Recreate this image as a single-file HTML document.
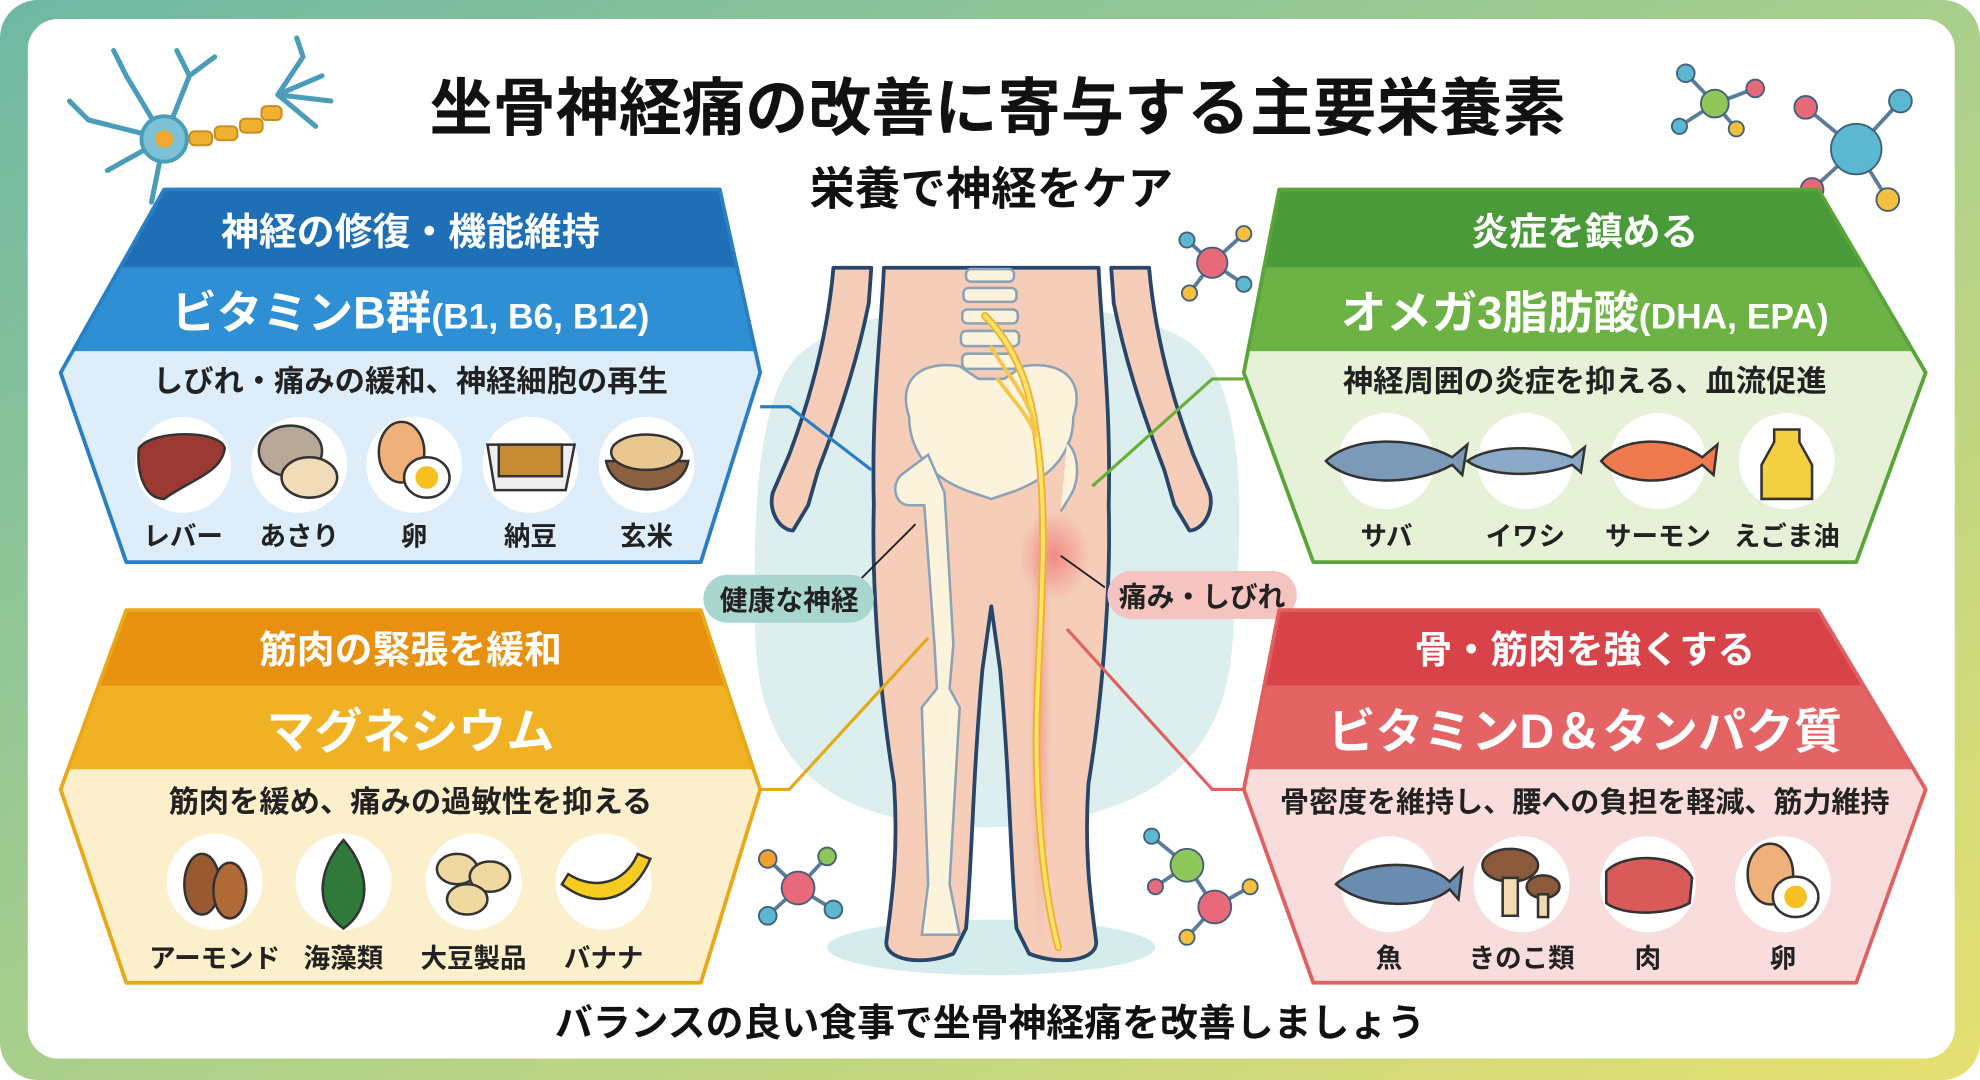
<!DOCTYPE html>
<html><head><meta charset="utf-8"><style>
html,body{margin:0;padding:0;width:1980px;height:1080px;overflow:hidden;background:#fff}
svg{display:block}
text{font-family:"Liberation Sans","Noto Sans CJK JP",sans-serif;font-weight:bold}
</style></head><body>
<svg width="1980" height="1080" viewBox="0 0 1568 855" preserveAspectRatio="none" xmlns="http://www.w3.org/2000/svg">
<defs>
<linearGradient id="bg" x1="0" y1="0" x2="1" y2="1">
<stop offset="0" stop-color="#6fb8a4"/><stop offset="0.5" stop-color="#a9cf8c"/><stop offset="1" stop-color="#e6e070"/></linearGradient>
<clipPath id="cb"><polygon points="130,150 570,150 602,295 555,445 100,445 48,295"/></clipPath>
<clipPath id="cg"><polygon points="1013,150 1440,150 1525,295 1470,445 1040,445 985,295"/></clipPath>
<clipPath id="co"><polygon points="100,483 555,483 602,625 555,778 100,778 48,625"/></clipPath>
<clipPath id="cr"><polygon points="1013,483 1440,483 1525,625 1470,778 1040,778 985,625"/></clipPath>
<radialGradient id="pain"><stop offset="0" stop-color="#ee6f6f" stop-opacity="0.7"/><stop offset="1" stop-color="#ee6f6f" stop-opacity="0"/></radialGradient>
</defs>
<rect x="0" y="0" width="1568" height="855" rx="30" fill="url(#bg)"/>
<rect x="22" y="15" width="1526" height="823" rx="24" fill="#fff"/>

<!-- title -->
<text x="790" y="103" font-size="50" text-anchor="middle" fill="#111">坐骨神経痛の改善に寄与する主要栄養素</text>
<text x="785" y="162" font-size="36" text-anchor="middle" fill="#111">栄養で神経をケア</text>

<!-- neuron -->
<g stroke="#4a9cb8" stroke-width="4" fill="none" stroke-linecap="round">
<path d="M130 110 L100 60 M130 110 L70 95 M130 110 L85 135 M130 110 L120 160 M130 110 L150 60 M150 60 L140 40 M150 60 L170 45 M100 60 L90 40 M70 95 L55 80"/>
<path d="M220 75 L240 45 M220 75 L255 60 M220 75 L262 80 M220 75 L250 100 M240 45 L235 30"/>
</g>
<circle cx="130" cy="110" r="18" fill="#7cc1d6" stroke="#4a9cb8" stroke-width="3"/>
<circle cx="130" cy="110" r="7" fill="#f0a830"/>
<g fill="#f0b030" stroke="#c98a20" stroke-width="1.5">
<rect x="150" y="104" width="18" height="11" rx="4"/><rect x="170" y="100" width="18" height="11" rx="4"/><rect x="190" y="94" width="18" height="11" rx="4"/><rect x="207" y="84" width="16" height="11" rx="4"/>
</g>

<!-- molecules -->
<g stroke="#5a7c9a" stroke-width="3">
<line x1="1358" y1="82" x2="1335" y2="58"/><line x1="1358" y1="82" x2="1390" y2="70"/><line x1="1358" y1="82" x2="1330" y2="100"/><line x1="1358" y1="82" x2="1375" y2="102"/>
<line x1="1470" y1="118" x2="1430" y2="85"/><line x1="1470" y1="118" x2="1505" y2="80"/><line x1="1470" y1="118" x2="1435" y2="150"/><line x1="1470" y1="118" x2="1495" y2="158"/>
<line x1="960" y1="208" x2="940" y2="190"/><line x1="960" y1="208" x2="985" y2="185"/><line x1="960" y1="208" x2="942" y2="232"/><line x1="960" y1="208" x2="985" y2="225"/>
<line x1="632" y1="703" x2="608" y2="680"/><line x1="632" y1="703" x2="655" y2="678"/><line x1="632" y1="703" x2="608" y2="725"/><line x1="632" y1="703" x2="660" y2="720"/>
<line x1="940" y1="685" x2="912" y2="662"/><line x1="940" y1="685" x2="915" y2="702"/><line x1="940" y1="685" x2="962" y2="718"/><line x1="962" y1="718" x2="990" y2="702"/><line x1="962" y1="718" x2="940" y2="742"/>
</g>
<g stroke="#44607a" stroke-width="1.5">
<circle cx="1358" cy="82" r="11" fill="#8fc75a"/><circle cx="1335" cy="58" r="7" fill="#5bb8d0"/><circle cx="1390" cy="70" r="7" fill="#e86a7a"/><circle cx="1330" cy="100" r="6" fill="#5bb8d0"/><circle cx="1375" cy="102" r="6" fill="#f4c040"/>
<circle cx="1470" cy="118" r="20" fill="#5bb8d0"/><circle cx="1430" cy="85" r="9" fill="#e86a7a"/><circle cx="1505" cy="80" r="9" fill="#5bb8d0"/><circle cx="1435" cy="150" r="9" fill="#e86a7a"/><circle cx="1495" cy="158" r="9" fill="#f4c040"/>
<circle cx="960" cy="208" r="12" fill="#e86a7a"/><circle cx="940" cy="190" r="6" fill="#5bb8d0"/><circle cx="985" cy="185" r="6" fill="#f4c040"/><circle cx="942" cy="232" r="6" fill="#f4c040"/><circle cx="985" cy="225" r="6" fill="#5bb8d0"/>
<circle cx="632" cy="703" r="13" fill="#e86a7a"/><circle cx="608" cy="680" r="7" fill="#f0a030"/><circle cx="655" cy="678" r="7" fill="#8fc75a"/><circle cx="608" cy="725" r="7" fill="#5bb8d0"/><circle cx="660" cy="720" r="7" fill="#5bb8d0"/>
<circle cx="940" cy="685" r="13" fill="#8fc75a"/><circle cx="912" cy="662" r="6" fill="#5bb8d0"/><circle cx="915" cy="702" r="6" fill="#e86a7a"/><circle cx="962" cy="718" r="13" fill="#e86a7a"/><circle cx="990" cy="702" r="6" fill="#f4c040"/><circle cx="940" cy="742" r="6" fill="#f4c040"/>
</g>

<!-- body backdrop -->
<path d="M640 275 C700 230 880 230 940 270 C990 300 985 420 975 520 C965 610 900 650 785 655 C650 655 600 600 598 500 C596 400 600 300 640 275Z" fill="#dcefee"/>
<ellipse cx="785" cy="750" rx="130" ry="22" fill="#d4ecec"/>

<!-- body -->
<g stroke="#27466a" stroke-width="3" fill="#f5cdb8" stroke-linejoin="round">
<path d="M660 212 C655 270 640 320 625 360 L612 390 C608 405 618 420 628 420 L640 400 L648 372 C668 320 680 280 688 240 L690 212Z"/>
<path d="M910 212 C915 270 930 320 945 360 L958 390 C962 405 952 420 942 420 L930 400 L922 372 C902 320 890 280 882 240 L880 212Z"/>
<path d="M700 212 L870 212 C872 260 880 320 878 400 C880 470 872 560 862 620 C858 680 865 720 868 745 C870 760 840 765 815 755 L805 735 C800 680 800 620 792 530 L785 480 L778 530 C770 620 770 680 765 735 L755 755 C730 765 700 760 702 745 C705 720 712 680 708 620 C698 560 690 470 692 400 C690 320 698 260 700 212Z"/>
</g>
<path d="M815 380 C830 430 835 520 830 600 C830 680 835 720 830 750" stroke="url(#pain)" stroke-width="40" fill="none" opacity="0.6"/>
<ellipse cx="835" cy="440" rx="28" ry="35" fill="url(#pain)"/>
<!-- bones -->
<g fill="#fbf3dc" stroke="#8ba3b5" stroke-width="2">
<rect x="765" y="213" width="38" height="10" rx="4"/><rect x="763" y="228" width="42" height="11" rx="4"/><rect x="762" y="245" width="44" height="11" rx="4"/><rect x="761" y="262" width="46" height="12" rx="4"/><rect x="762" y="280" width="44" height="12" rx="4"/>
<path d="M720 330 C710 300 730 285 760 290 L775 300 L795 300 L810 290 C840 285 860 300 850 330 C850 360 830 380 800 390 L785 395 L770 390 C740 380 720 360 720 330Z"/>
<path d="M735 360 L715 375 C705 382 708 400 720 400 L732 400 L740 510 L742 545 L730 560 L735 700 L730 740 L760 740 L752 700 L760 560 L752 545 L755 510 L748 390Z"/>
<path d="M845 350 C855 360 855 380 848 392 L840 405"/>
</g>
<!-- nerve -->
<g fill="none" stroke-linecap="round">
<path d="M780 250 C800 270 815 300 820 340 C830 400 825 470 822 540 C818 620 825 700 838 750" stroke="#f0b030" stroke-width="6"/>
<path d="M780 250 C800 270 815 300 820 340 C830 400 825 470 822 540 C818 620 825 700 838 750" stroke="#ffe36a" stroke-width="3"/>
<path d="M785 275 C800 300 815 315 820 340 M790 300 C805 320 815 330 820 345" stroke="#f4c64a" stroke-width="3"/>
</g>

<!-- connectors -->
<g stroke-width="2.5" fill="none">
<polyline points="602,322 625,322 690,372" stroke="#2a7fc4"/>
<polyline points="985,300 960,300 865,385" stroke="#6aae3a"/>
<polyline points="602,625 625,625 735,505" stroke="#e2aa18"/>
<polyline points="985,625 960,625 845,498" stroke="#e06060"/>
<line x1="650" y1="490" x2="725" y2="415" stroke="#222" stroke-width="1.5"/>
<line x1="875" y1="465" x2="840" y2="440" stroke="#222" stroke-width="1.5"/>
</g>
<rect x="557" y="455" width="135" height="38" rx="19" fill="#a9d7cf"/>
<text x="625" y="483" font-size="22" text-anchor="middle" fill="#222">健康な神経</text>
<rect x="877" y="452" width="150" height="38" rx="19" fill="#f6c4c0"/>
<text x="952" y="480" font-size="22" text-anchor="middle" fill="#222">痛み・しびれ</text>

<!-- Blue panel -->
<g clip-path="url(#cb)">
<rect x="40" y="150" width="570" height="300" fill="#ddeefa"/>
<rect x="40" y="150" width="570" height="62" fill="#1e6fb5"/>
<rect x="40" y="212" width="570" height="66" fill="#2e8fd4"/>
</g>
<polygon points="130,150 570,150 602,295 555,445 100,445 48,295" fill="none" stroke="#2a7fc4" stroke-width="3" stroke-linejoin="round"/>
<text x="325" y="194" font-size="30" text-anchor="middle" fill="#fff">神経の修復・機能維持</text>
<text x="325" y="260" font-size="36" text-anchor="middle" fill="#fff">ビタミンB群<tspan font-size="28">(B1, B6, B12)</tspan></text>
<text x="325" y="310" font-size="24" text-anchor="middle" fill="#222">しびれ・痛みの緩和、神経細胞の再生</text>

<!-- Green panel -->
<g clip-path="url(#cg)">
<rect x="980" y="150" width="550" height="300" fill="#e7f1d7"/>
<rect x="980" y="150" width="550" height="62" fill="#4a9a3a"/>
<rect x="980" y="212" width="550" height="66" fill="#6cb244"/>
</g>
<polygon points="1013,150 1440,150 1525,295 1470,445 1040,445 985,295" fill="none" stroke="#5aa43a" stroke-width="3" stroke-linejoin="round"/>
<text x="1255" y="194" font-size="30" text-anchor="middle" fill="#fff">炎症を鎮める</text>
<text x="1255" y="260" font-size="36" text-anchor="middle" fill="#fff">オメガ3脂肪酸<tspan font-size="28">(DHA, EPA)</tspan></text>
<text x="1255" y="310" font-size="24" text-anchor="middle" fill="#222">神経周囲の炎症を抑える、血流促進</text>

<!-- Orange panel -->
<g clip-path="url(#co)">
<rect x="40" y="483" width="570" height="300" fill="#fcefcc"/>
<rect x="40" y="483" width="570" height="60" fill="#e8900f"/>
<rect x="40" y="543" width="570" height="66" fill="#f0b224"/>
</g>
<polygon points="100,483 555,483 602,625 555,778 100,778 48,625" fill="none" stroke="#e8a818" stroke-width="3" stroke-linejoin="round"/>
<text x="325" y="525" font-size="30" text-anchor="middle" fill="#fff">筋肉の緊張を緩和</text>
<text x="325" y="592" font-size="38" text-anchor="middle" fill="#fff">マグネシウム</text>
<text x="325" y="643" font-size="24" text-anchor="middle" fill="#222">筋肉を緩め、痛みの過敏性を抑える</text>

<!-- Red panel -->
<g clip-path="url(#cr)">
<rect x="980" y="483" width="550" height="300" fill="#f9dddc"/>
<rect x="980" y="483" width="550" height="60" fill="#d8434a"/>
<rect x="980" y="543" width="550" height="66" fill="#e46465"/>
</g>
<polygon points="1013,483 1440,483 1525,625 1470,778 1040,778 985,625" fill="none" stroke="#e06060" stroke-width="3" stroke-linejoin="round"/>
<text x="1255" y="525" font-size="30" text-anchor="middle" fill="#fff">骨・筋肉を強くする</text>
<text x="1255" y="592" font-size="38" text-anchor="middle" fill="#fff">ビタミンD＆タンパク質</text>
<text x="1255" y="643" font-size="23" text-anchor="middle" fill="#222">骨密度を維持し、腰への負担を軽減、筋力維持</text>

<!-- food circles -->
<g fill="#fff">
<circle cx="145" cy="368" r="38"/><circle cx="237" cy="368" r="38"/><circle cx="328" cy="368" r="38"/><circle cx="420" cy="368" r="38"/><circle cx="512" cy="368" r="38"/>
<circle cx="1098" cy="365" r="38"/><circle cx="1208" cy="365" r="38"/><circle cx="1313" cy="365" r="38"/><circle cx="1415" cy="365" r="38"/>
<circle cx="170" cy="698" r="38"/><circle cx="272" cy="698" r="38"/><circle cx="375" cy="698" r="38"/><circle cx="478" cy="698" r="38"/>
<circle cx="1100" cy="700" r="38"/><circle cx="1205" cy="700" r="38"/><circle cx="1305" cy="700" r="38"/><circle cx="1412" cy="700" r="38"/>
</g>
<g stroke="#333" stroke-width="2">
<!-- blue foods -->
<path d="M110 355 C120 340 175 340 178 355 C175 375 150 380 130 395 C115 395 108 375 110 355Z" fill="#9a3a32"/>
<ellipse cx="230" cy="357" rx="25" ry="20" fill="#b8a898"/><ellipse cx="245" cy="378" rx="22" ry="16" fill="#f0dcb8"/>
<ellipse cx="318" cy="358" rx="18" ry="24" fill="#f0b07a"/><ellipse cx="338" cy="378" rx="18" ry="16" fill="#fff"/><circle cx="338" cy="378" r="9" fill="#f6c020" stroke="none"/>
<path d="M386 352 L455 352 L448 388 L392 388Z" fill="#eee"/><rect x="395" y="352" width="50" height="25" fill="#c68a30"/>
<path d="M480 365 L545 365 C540 395 485 395 480 365Z" fill="#8a6040"/><ellipse cx="512" cy="358" rx="28" ry="14" fill="#e8c890"/>
<!-- green foods -->
<path d="M1050 365 C1070 345 1120 345 1150 362 L1162 352 L1158 376 L1150 368 C1120 385 1070 385 1050 365Z" fill="#7a9ab8"/>
<path d="M1162 365 C1180 352 1220 352 1245 362 L1255 354 L1252 374 L1245 368 C1220 378 1180 378 1162 365Z" fill="#8aa8c8"/>
<path d="M1268 365 C1285 345 1325 345 1348 362 L1360 352 L1357 376 L1348 368 C1325 385 1285 385 1268 365Z" fill="#f07a50"/>
<path d="M1405 340 L1425 340 L1425 350 L1435 368 L1435 395 L1395 395 L1395 368 L1405 350Z" fill="#f2d040"/>
<!-- orange foods -->
<ellipse cx="160" cy="700" rx="14" ry="24" fill="#9a5a30"/><ellipse cx="182" cy="705" rx="13" ry="22" fill="#b06a38"/>
<path d="M272 665 C250 690 250 720 272 735 C294 720 294 690 272 665Z" fill="#2f7a3a"/>
<ellipse cx="362" cy="688" rx="16" ry="12" fill="#f0d9a0"/><ellipse cx="388" cy="694" rx="16" ry="12" fill="#f0d9a0"/><ellipse cx="370" cy="712" rx="16" ry="12" fill="#f0d9a0"/>
<path d="M445 700 C470 720 500 715 515 680 L505 676 C495 700 470 705 450 692Z" fill="#f6cc20"/>
<!-- red foods -->
<path d="M1058 700 C1080 680 1130 680 1148 698 L1158 688 L1155 712 L1148 704 C1130 720 1080 720 1058 700Z" fill="#6a8cb0"/>
<ellipse cx="1196" cy="685" rx="22" ry="13" fill="#8a5a3a"/><rect x="1190" y="695" width="12" height="30" fill="#f0dcb0"/><ellipse cx="1222" cy="702" rx="13" ry="9" fill="#8a5a3a"/><rect x="1218" y="708" width="8" height="18" fill="#f0dcb0"/>
<path d="M1272 690 C1285 675 1330 675 1340 695 L1338 715 C1320 725 1285 725 1272 715Z" fill="#d85a5a"/>
<ellipse cx="1402" cy="692" rx="18" ry="24" fill="#f0b07a"/><ellipse cx="1422" cy="710" rx="18" ry="16" fill="#fff"/><circle cx="1422" cy="710" r="9" fill="#f6c020" stroke="none"/>
</g>
<g font-size="21" fill="#222" text-anchor="middle">
<text x="145" y="432">レバー</text><text x="237" y="432">あさり</text><text x="328" y="432">卵</text><text x="420" y="432">納豆</text><text x="512" y="432">玄米</text>
<text x="1098" y="432">サバ</text><text x="1208" y="432">イワシ</text><text x="1313" y="432">サーモン</text><text x="1415" y="432">えごま油</text>
<text x="170" y="766">アーモンド</text><text x="272" y="766">海藻類</text><text x="375" y="766">大豆製品</text><text x="478" y="766">バナナ</text>
<text x="1100" y="766">魚</text><text x="1205" y="766">きのこ類</text><text x="1305" y="766">肉</text><text x="1412" y="766">卵</text>
</g>

<text x="784" y="820" font-size="30" text-anchor="middle" fill="#111">バランスの良い食事で坐骨神経痛を改善しましょう</text>
</svg>
</body></html>
